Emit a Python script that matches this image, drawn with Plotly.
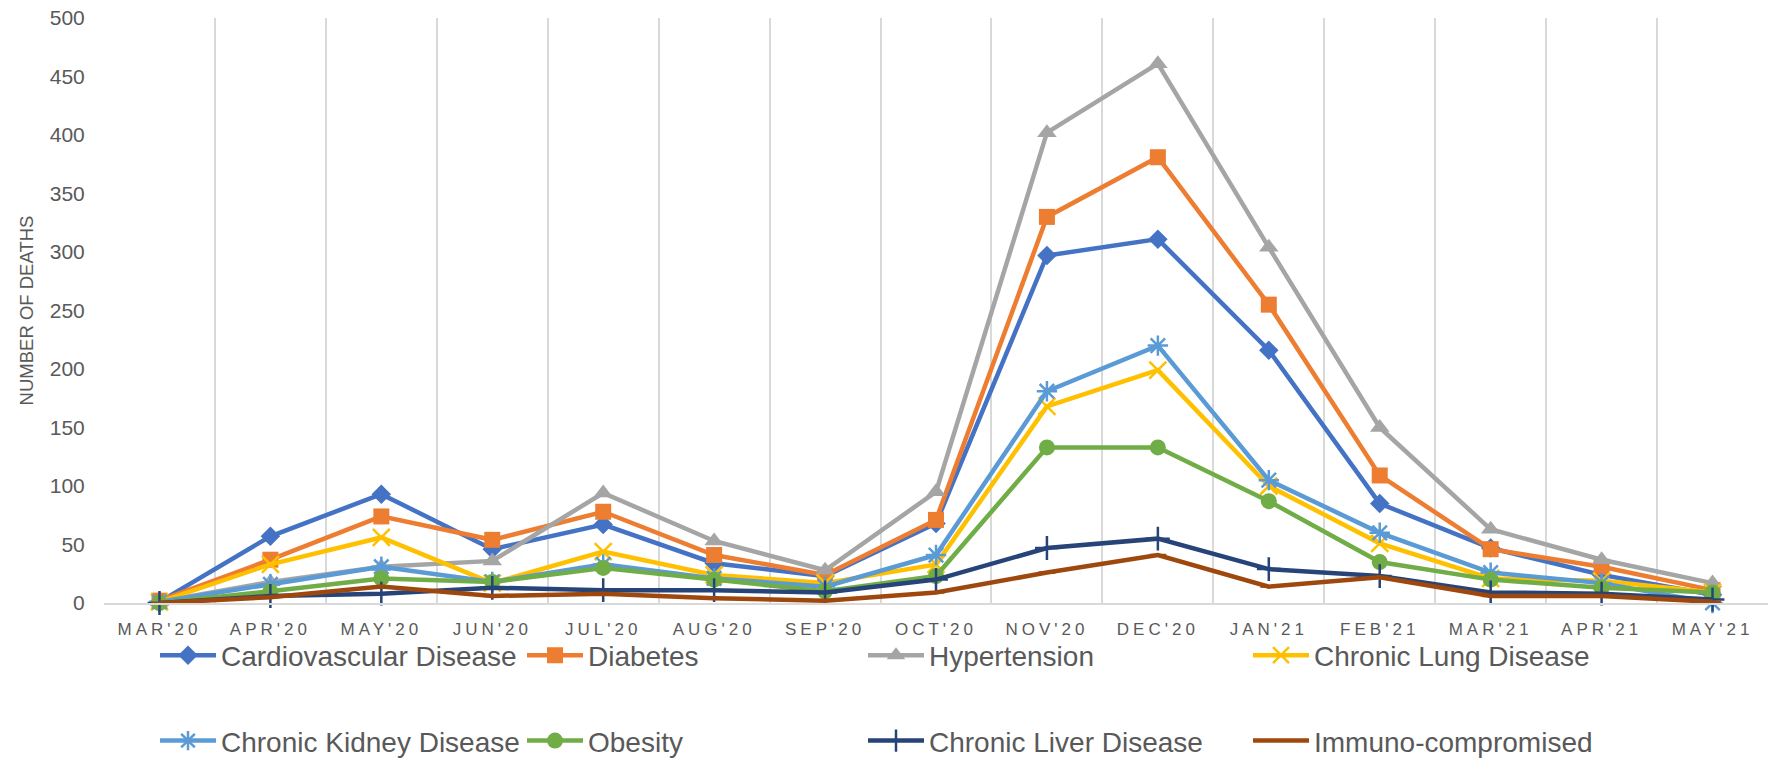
import plotly.graph_objects as go

months = ["MAR'20", "APR'20", "MAY'20", "JUN'20", "JUL'20", "AUG'20", "SEP'20", "OCT'20",
          "NOV'20", "DEC'20", "JAN'21", "FEB'21", "MAR'21", "APR'21", "MAY'21"]

cardiovascular = [1, 57, 93, 46, 67, 34, 23, 68, 297, 311, 216, 85, 47, 24, 7]
diabetes = [2, 37, 74, 54, 78, 41, 24, 71, 330, 381, 255, 109, 46, 31, 11]
hypertension = [1, 18, 31, 36, 94, 53, 28, 95, 402, 461, 304, 150, 63, 37, 17]
chronic_lung = [1, 33, 56, 17, 44, 24, 17, 33, 168, 199, 100, 51, 21, 19, 9]
chronic_kidney = [1, 16, 31, 18, 33, 21, 14, 41, 181, 220, 105, 60, 26, 17, 0]
obesity = [0, 10, 21, 18, 30, 20, 10, 23, 133, 133, 87, 35, 20, 13, 9]
chronic_liver = [0, 6, 8, 13, 11, 11, 9, 20, 47, 55, 29, 23, 9, 8, 3]
immuno = [0, 5, 14, 6, 8, 4, 2, 9, 26, 41, 14, 22, 6, 6, 1]

series_names = ["Cardiovascular Disease", "Diabetes", "Hypertension", "Chronic Lung Disease",
                "Chronic Kidney Disease", "Obesity", "Chronic Liver Disease", "Immuno-compromised"]
series_values = [cardiovascular, diabetes, hypertension, chronic_lung,
                 chronic_kidney, obesity, chronic_liver, immuno]

colors = ["#4472C4", "#ED7D31", "#A5A5A5", "#FFC000", "#5B9BD5", "#70AD47", "#264478", "#9E480E"]
symbols = ["diamond", "square", "triangle-up", "x-thin-open", "asterisk-open", "circle",
           "cross-thin-open", "line-ew-open"]
sizes = [15, 16, 17, 17, 17, 16, 17, 12]
legend_ids = ["legend", "legend2", "legend3", "legend4", "legend", "legend2", "legend3", "legend4"]

FONT = "Liberation Sans, Arial, sans-serif"
TXT = "#595959"

fig = go.Figure()
for i, (name, vals) in enumerate(zip(series_names, series_values)):
    sym = symbols[i]
    thin = sym.endswith("-open")
    marker = dict(symbol=sym, size=sizes[i], color=colors[i])
    marker["line"] = dict(color=colors[i], width=2.5 if thin else 0)
    fig.add_trace(go.Scatter(
        x=months, y=vals, name=name, mode="lines+markers",
        line=dict(color=colors[i], width=4.5),
        marker=marker, cliponaxis=False,
        legend=legend_ids[i], legendgroup=name,
    ))

L, R, T, B = 104, 6, 18, 156
W, H = 1774, 759
pw = W - L - R
ph = H - T - B

def px_x(p):
    return (p - L) / pw

legend_common = dict(orientation="v", font=dict(family=FONT, size=28, color=TXT),
                     itemwidth=56, tracegroupgap=46, bgcolor="rgba(0,0,0,0)",
                     yanchor="top", xanchor="left", y=-0.047, itemsizing="trace")

tick_text = ['<span style="letter-spacing:4px">' + m + '</span>' for m in months]

fig.update_layout(
    width=W, height=H,
    margin=dict(l=L, r=R, t=T, b=B, autoexpand=False),
    paper_bgcolor="white", plot_bgcolor="white",
    font=dict(family=FONT, color=TXT),
    legend=dict(x=px_x(155), **legend_common),
    legend2=dict(x=px_x(522), **legend_common),
    legend3=dict(x=px_x(863), **legend_common),
    legend4=dict(x=px_x(1248), **legend_common),
    xaxis=dict(
        type="category", range=[-0.5, 14.5], tickson="boundaries",
        tickmode="array", tickvals=months, ticktext=tick_text,
        showgrid=True, gridcolor="#D9D9D9", gridwidth=2,
        showline=True, linecolor="#D9D9D9", linewidth=2,
        ticks="", tickfont=dict(family=FONT, size=17, color=TXT),
        ticklabelstandoff=10, zeroline=False, automargin=False,
    ),
    yaxis=dict(
        range=[0, 500], dtick=50, showgrid=False, zeroline=False, showline=False,
        ticks="outside", ticklen=14, tickcolor="rgba(0,0,0,0)",
        tickfont=dict(family=FONT, size=21, color=TXT), automargin=False,
        title=dict(text="NUMBER OF DEATHS", font=dict(family=FONT, size=18.5, color=TXT), standoff=11),
    ),
)

fig.write_html("out.html", config={"displayModeBar": False},
               post_script="document.body.style.margin='0';document.body.style.overflow='hidden';")
